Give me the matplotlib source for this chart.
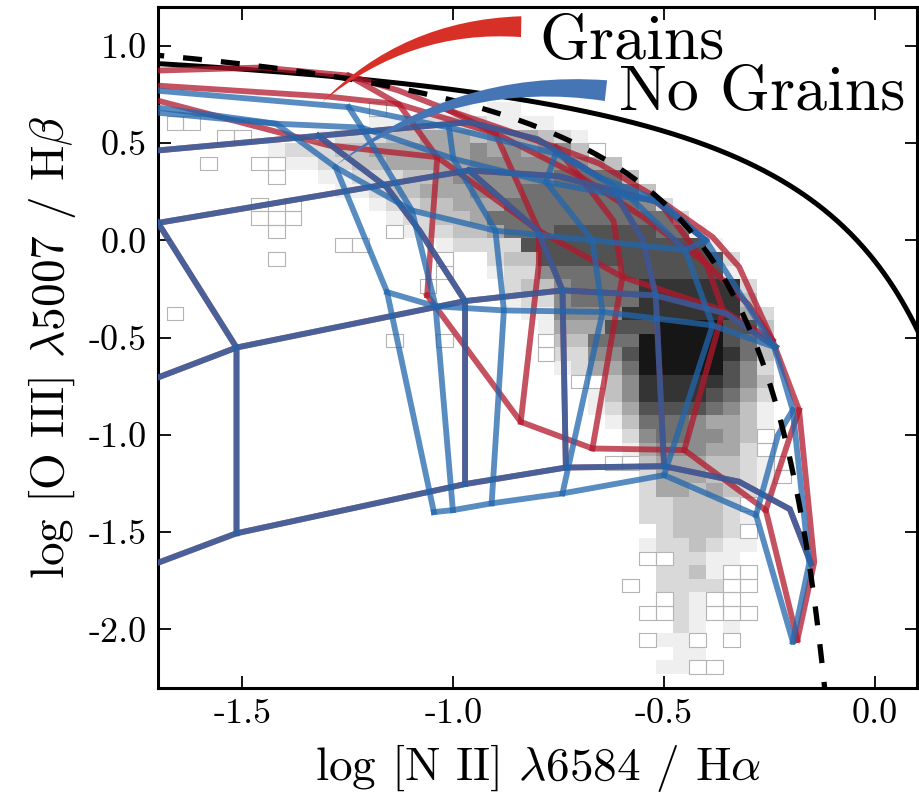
import numpy as np
import matplotlib
matplotlib.use("Agg")
import matplotlib.pyplot as plt
from matplotlib.ticker import FormatStrFormatter
from matplotlib.colors import LinearSegmentedColormap, PowerNorm
from matplotlib.patches import Rectangle
from matplotlib.collections import PatchCollection

plt.rcParams['font.family'] = 'serif'
plt.rcParams['font.serif'] = ['cmr10']
plt.rcParams['mathtext.fontset'] = 'cm'
plt.rcParams['axes.unicode_minus'] = False

# ==============================
# DATA
# ==============================

# demarcation lines: y = a / (x - b) + c
KEWLEY = (0.61, 0.47, 1.19)
KAUFFMANN = (0.61, 0.05, 1.30)

# 2D histogram of galaxies: bins 0.04 dex in x (from -2.0), 0.07 dex in y (from -2.3)
HIST_X0, HIST_DX, HIST_NX = -2.0, 0.04, 50
HIST_Y0, HIST_DY, HIST_NY = -2.3, 0.07, 50
# (row, first column, levels)  '.' empty, '0' single count ... '9' densest
HIST_ROWS = [
    (42, 20, "0...11.11"),
    (41, 8, "00..........11222221111"),
    (40, 11, "00....1222334443444321"),
    (39, 14, "12223344444454545530"),
    (38, 10, "0..0011223344444555555543"),
    (37, 14, "0..1122233455555566663"),
    (36, 18, "1123344455566666663"),
    (35, 13, "0.0....122334446666666652"),
    (34, 13, "000.....122334666666666662"),
    (33, 14, "0......01223346667777776 61".replace(" ", "")[:26]),
    (32, 18, "00....12222777777777771"),
    (31, 14, "0.........0..233777777777772"),
    (30, 24, "0..122566667777771"),
    (29, 23, "0....233566668888882"),
    (28, 28, "122566668888883"),
    (27, 8, "0"),
    (27, 29, "115555888888842"),
    (26, 30, "14447779999773"),
    (25, 21, "0..0.....0"),
    (25, 31, "3366699999763"),
    (24, 30, "02255799999863"),
    (23, 31, "1244699999752"),
    (22, 32, "003588888753"),
    (21, 33, "13588887642"),
    (20, 33, "12477776531"),
    (19, 34, "1366654431"),
    (18, 35, "256655430"),
    (17, 35, "145554420"),
    (16, 34, "00344433210"),
    (15, 36, "244433210"),
    (14, 36, "24434321"),
    (13, 36, "2233320"),
    (12, 36, "2233321"),
    (11, 37, "233320"),
    (10, 36, "1223211"),
    (9, 36, "002211"),
    (8, 37, "223100"),
    (7, 35, "0.222200"),
    (6, 37, "02100"),
    (5, 36, "0021000"),
    (4, 38, "21.1"),
    (3, 36, "0110.0"),
    (2, 38, "11"),
    (1, 37, "1100"),
]

# model grid polylines (log NII/Ha, log OIII/Hb)
# lines common to both grids
SHARED_LINES = [
    [(-1.90, -1.82), (-1.514, -1.506), (-0.972, -1.253), (-0.733, -1.168), (-0.50, -1.161),
     (-0.322, -1.241), (-0.202, -1.382), (-0.152, -1.661)],
    [(-1.514, -1.506), (-1.514, -0.551), (-1.70, 0.09), (-1.85, 0.50)],
    [(-1.90, -0.87), (-1.514, -0.551), (-0.972, -0.312), (-0.741, -0.257), (-0.52, -0.283),
     (-0.354, -0.376), (-0.235, -0.548)],
    [(-0.972, -1.253), (-0.972, -0.312), (-1.08, 0.05), (-1.158, 0.274), (-1.32, 0.538)],
    [(-0.733, -1.168), (-0.741, -0.257), (-0.80, 0.05), (-0.963, 0.36)],
    [(-0.50, -1.161), (-0.52, -0.283), (-0.55, 0.0), (-0.62, 0.257)],
    [(-1.90, -0.05), (-1.70, 0.09), (-0.963, 0.36), (-0.75, 0.33), (-0.52, 0.20), (-0.401, 0.0)],
    [(-1.90, 0.40), (-1.703, 0.462), (-0.963, 0.608), (-0.80, 0.52), (-0.654, 0.325)],
]
# grains only
GRAINS_LINES = [
    [(-1.062, -0.282), (-0.840, -0.933), (-0.670, -1.070), (-0.452, -1.078), (-0.259, -1.387),
     (-0.184, -2.054)],
    [(-0.184, -2.054), (-0.144, -1.654), (-0.18, -0.873), (-0.243, -0.514), (-0.322, -0.137),
     (-0.385, 0.017), (-0.52, 0.222), (-0.654, 0.395), (-0.757, 0.479), (-1.01, 0.668),
     (-1.129, 0.770), (-1.248, 0.847), (-1.454, 0.889), (-1.703, 0.873), (-1.90, 0.85)],
    [(-1.90, 0.81), (-1.703, 0.796), (-1.30, 0.74), (-1.129, 0.70), (-0.90, 0.55), (-0.70, 0.33),
     (-0.55, 0.12), (-0.40, -0.12), (-0.30, -0.33), (-0.243, -0.514)],
    [(-1.90, 0.83), (-1.703, 0.72), (-1.295, 0.488), (-1.038, 0.428), (-0.797, 0.05),
     (-0.599, -0.188), (-0.36, -0.36), (-0.243, -0.514)],
    [(-1.062, -0.282), (-1.038, 0.428), (-1.129, 0.70), (-1.248, 0.847)],
    [(-0.840, -0.933), (-0.797, -0.12), (-0.797, 0.05), (-0.90, 0.55), (-1.01, 0.668)],
    [(-0.670, -1.070), (-0.599, -0.188), (-0.62, 0.10), (-0.70, 0.33), (-0.757, 0.479)],
    [(-0.452, -1.078), (-0.36, -0.36), (-0.40, -0.12), (-0.52, 0.222)],
    [(-0.259, -1.387), (-0.205, -1.03), (-0.18, -0.873)],
]
# no grains only
NOGRAINS_LINES = [
    [(-1.046, -1.397), (-1.001, -1.387), (-0.909, -1.352), (-0.741, -1.301), (-0.500, -1.207),
     (-0.282, -1.412), (-0.195, -2.063)],
    [(-0.195, -2.063), (-0.156, -1.661), (-0.195, -0.873), (-0.239, -0.548), (-0.401, 0.0),
     (-0.512, 0.205), (-0.654, 0.325), (-0.757, 0.447), (-1.01, 0.58), (-1.248, 0.685),
     (-1.703, 0.77), (-1.90, 0.79)],
    [(-1.157, -0.266), (-1.042, -0.339), (-0.880, -0.360), (-0.646, -0.368), (-0.385, -0.437),
     (-0.239, -0.548)],
    [(-1.279, 0.376), (-1.098, 0.154), (-0.90, 0.05), (-0.67, 0.0), (-0.45, -0.05), (-0.401, 0.0)],
    [(-1.90, 0.70), (-1.703, 0.683), (-1.42, 0.60), (-1.217, 0.580), (-1.00, 0.42), (-0.78, 0.30),
     (-0.58, 0.22), (-0.512, 0.205)],
    [(-1.046, -1.397), (-1.157, -0.266), (-1.279, 0.376), (-1.42, 0.60), (-1.703, 0.657),
     (-1.90, 0.67)],
    [(-1.001, -1.387), (-1.042, -0.339), (-1.098, 0.154), (-1.217, 0.580), (-1.248, 0.685)],
    [(-0.909, -1.352), (-0.880, -0.360), (-0.90, 0.05), (-1.00, 0.42), (-1.01, 0.58)],
    [(-0.741, -1.301), (-0.646, -0.368), (-0.67, 0.0), (-0.78, 0.30), (-0.757, 0.447)],
    [(-0.500, -1.207), (-0.385, -0.437), (-0.45, -0.05), (-0.58, 0.22), (-0.654, 0.325)],
    [(-0.282, -1.412), (-0.23, -1.00), (-0.195, -0.873)],
]

# label arrows: (text, text position, wedge start, wedge tip)
LABELS = [
    ("Grains", (-0.797, 0.935), (-0.839, 1.099), (-1.312, 0.709)),
    ("No Grains", (-0.607, 0.668), (-0.638, 0.770), (-1.279, 0.385)),
]

RED = "#b2182b"
BLUE = "#2166ac"
WEDGE_COLORS = ["#d73027", "#4575b4"]

# ==============================
# FIGURE
# ==============================

fig = plt.figure(figsize=(9.19, 8.05), dpi=100)
ax = fig.add_axes([0.172, 0.1457, 0.826, 0.8456])

# histogram
levels = np.full((HIST_NY, HIST_NX), np.nan)
for k, j0, s in HIST_ROWS:
    for i, ch in enumerate(s):
        if ch != ".":
            levels[k, j0 + i] = int(ch)
xe = HIST_X0 + HIST_DX * np.arange(HIST_NX + 1)
ye = HIST_Y0 + HIST_DY * np.arange(HIST_NY + 1)
greys = LinearSegmentedColormap.from_list("greys", ["#ffffff", "#161616"])
ax.pcolormesh(xe, ye, np.ma.masked_invalid(levels), cmap=greys,
              norm=PowerNorm(1.2, vmin=0, vmax=9), zorder=1)
# faint outline on the single-count cells
boxes = [Rectangle((xe[j], ye[k]), HIST_DX, HIST_DY)
         for k, j in zip(*np.where(levels == 0))]
ax.add_collection(PatchCollection(boxes, facecolor="none", edgecolor="#b4b4b4",
                                  linewidth=0.8, zorder=1.1))

# Kewley (solid) and Kauffmann (dashed)
xk = np.linspace(-2.0, 0.1, 400)
ax.plot(xk, KEWLEY[0] / (xk - KEWLEY[1]) + KEWLEY[2], color="k", lw=3.6, zorder=2)
xf = np.linspace(-2.0, -0.1, 400)
ax.plot(xf, KAUFFMANN[0] / (xf - KAUFFMANN[1]) + KAUFFMANN[2], color="k", lw=3.8,
        dashes=(3.6, 3.6), zorder=5)

# model grids
for line in GRAINS_LINES + SHARED_LINES:
    x, y = zip(*line)
    ax.plot(x, y, color=RED, lw=4.2, alpha=0.75, solid_joinstyle="miter", zorder=3)
for line in NOGRAINS_LINES + SHARED_LINES:
    x, y = zip(*line)
    ax.plot(x, y, color=BLUE, lw=4.2, alpha=0.75, solid_joinstyle="miter", zorder=4)

# labels with wedge arrows
for (txt, tpos, start, tip), c in zip(LABELS, WEDGE_COLORS):
    ax.text(tpos[0], tpos[1], txt, fontsize=46, ha="left", va="baseline", zorder=6)
    ax.annotate("", xy=tip, xytext=start,
                arrowprops=dict(arrowstyle="wedge,tail_width=1.0", fc=c, ec="none", lw=0,
                                mutation_scale=15, shrinkA=0, shrinkB=0,
                                connectionstyle="arc3,rad=0.2"),
                zorder=6)

ax.set_xlim(-1.7, 0.1)
ax.set_ylim(-2.3, 1.2)
ax.set_xticks([-1.5, -1.0, -0.5, 0.0])
ax.set_yticks([-2.0, -1.5, -1.0, -0.5, 0.0, 0.5, 1.0])
ax.xaxis.set_major_formatter(FormatStrFormatter("%.1f"))
ax.yaxis.set_major_formatter(FormatStrFormatter("%.1f"))
ax.tick_params(direction="in", top=True, right=True, length=9, width=1.3,
               labelsize=26, pad=8)
for sp in ax.spines.values():
    sp.set_linewidth(2.2)
ax.set_xlabel(r"log [N II] $\lambda$6584 / H$\alpha$", fontsize=34, labelpad=8)
ax.set_ylabel(r"log [O III] $\lambda$5007 / H$\beta$", fontsize=34, labelpad=8)

fig.savefig("out.png", dpi=100)
